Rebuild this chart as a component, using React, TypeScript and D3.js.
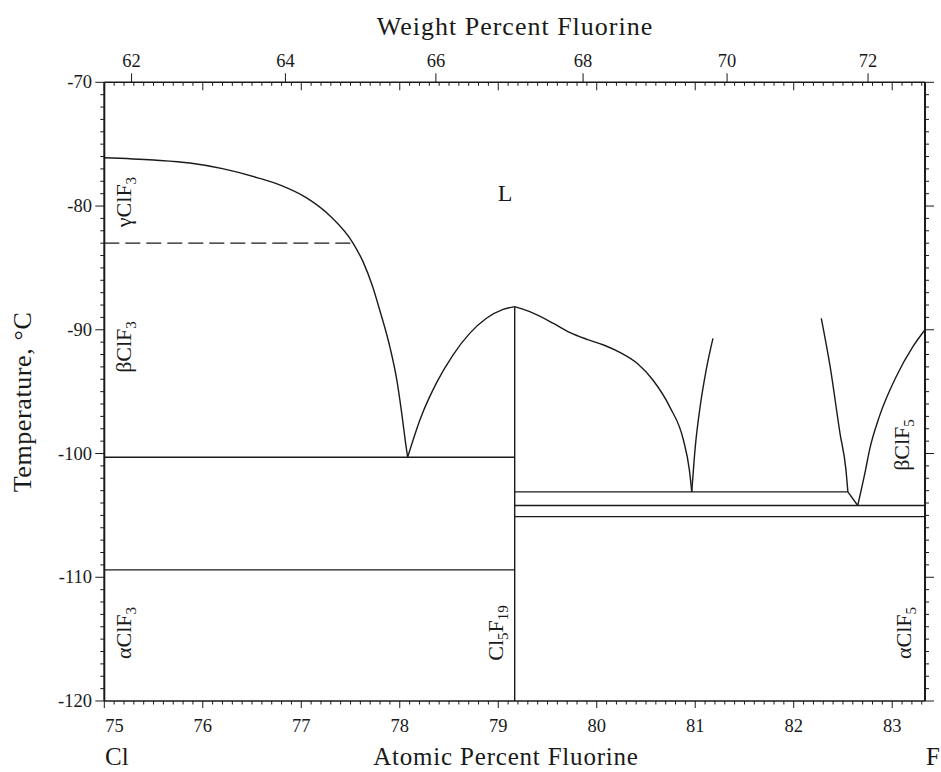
import React from "react";
import * as d3 from "d3";

// ---- data (atomic % F, temperature °C) ----
const liquidusClF3: [number, number][] = [
  [75, -76.1], [75.5, -76.28], [75.87, -76.52], [76.2, -76.98], [76.55, -77.7],
  [76.8, -78.35], [77.05, -79.32], [77.29, -80.78], [77.53, -83.05], [77.63, -84.55],
  [77.72, -86.4], [77.8, -88.5], [77.9, -91.4], [77.97, -94.05], [78.02, -96.75],
  [78.06, -99.2], [78.08, -100.3],
];
const liquidusCl5F19Left: [number, number][] = [
  [78.08, -100.3], [78.21, -97.17], [78.37, -94.33], [78.54, -92.04], [78.71, -90.29],
  [78.88, -89.07], [79.05, -88.35], [79.167, -88.13],
];
const liquidusCl5F19Right: [number, number][] = [
  [79.167, -88.13], [79.32, -88.54], [79.56, -89.48], [79.73, -90.23], [79.9, -90.77],
  [80.07, -91.23], [80.24, -91.85], [80.41, -92.71], [80.57, -94.06], [80.74, -96.21],
  [80.88, -98.91], [80.94, -101.3], [80.965, -103.1],
];
const liquidusB: [number, number][] = [
  [80.965, -103.1], [81.0, -99.5], [81.05, -96.2], [81.11, -93.3], [81.18, -90.7],
];
const liquidusC: [number, number][] = [
  [82.28, -89.07], [82.37, -92.98], [82.47, -98.37], [82.53, -101.3], [82.55, -103.1],
];
const kinkLine: [number, number][] = [[82.55, -103.1], [82.65, -104.2]];
const liquidusClF5: [number, number][] = [
  [82.65, -104.2], [82.73, -101.3], [82.77, -99.7], [82.87, -97.0], [83.04, -93.8],
  [83.21, -91.37], [83.333, -90.0],
];
// horizontal invariant lines: [x1, x2, T]
const isotherms: [number, number, number][] = [
  [75, 79.167, -100.3], [75, 79.167, -109.4], [79.167, 82.55, -103.1],
  [79.167, 83.333, -104.2], [79.167, 83.333, -105.1],
];
const dashedIsotherm: [number, number, number] = [75, 77.53, -83.0];
const compoundX = 79.167;
const compoundTop = -88.13;

const atomicMajor = [75, 76, 77, 78, 79, 80, 81, 82, 83];
const tempMajor = [-120, -110, -100, -90, -80, -70];
const weightTicks = [62, 64, 66, 68, 70, 72];

const W = 941, H = 772;
const x = d3.scaleLinear().domain([75, 83.333]).range([104.3, 925]);
const y = d3.scaleLinear().domain([-120, -70]).range([701, 82.3]);

const atFromWt = (w: number) => {
  const f = w / 100;
  const r = (35.453 * f) / (18.998 * (1 - f));
  return (100 * r) / (1 + r);
};

const line = d3
  .line<[number, number]>()
  .x((d) => x(d[0]))
  .y((d) => y(d[1]))
  .curve(d3.curveMonotoneX);
const straight = d3.line<[number, number]>().x((d) => x(d[0])).y((d) => y(d[1]));

const FONT = "'Liberation Serif', 'Times New Roman', Times, serif";
const INK = "#1a1a1a";

export default function App() {
  const minorAt = d3.range(750, 834, 1).map((v) => v / 10);
  const minorT = d3.range(-120, -69, 1);
  const xl = x(75), xr = x(83.333), yt = y(-70), yb = y(-120);

  const Rot = ({ cx, cy, children, size = 22 }: any) => (
    <text
      transform={`translate(${cx},${cy}) rotate(-90)`}
      textAnchor="middle"
      fontSize={size}
      fontFamily={FONT}
      fill={INK}
    >
      {children}
    </text>
  );
  const sub = (s: string) => (
    <tspan fontSize={15} dy={5}>{s}</tspan>
  );

  return (
    <svg width={W} height={H} style={{ position: "absolute", left: 0, top: 0, background: "#fff" }}>
      <rect width={W} height={H} fill="#fff" />
      {/* frame */}
      <g stroke={INK} fill="none">
        <line x1={xl} x2={xr} y1={yt} y2={yt} strokeWidth={1.5} />
        <line x1={xl} x2={xr} y1={yb} y2={yb} strokeWidth={1.5} />
        <line x1={xl} x2={xl} y1={yt} y2={yb} strokeWidth={2} />
        <line x1={xr} x2={xr} y1={yt} y2={yb} strokeWidth={2} />
      </g>
      {/* bottom ticks (outward) and top atomic ticks (inward) */}
      <g stroke={INK} strokeWidth={1}>
        {minorAt.map((v) => {
          const major = Math.abs(v - Math.round(v)) < 1e-6;
          return (
            <g key={"a" + v}>
              <line x1={x(v)} x2={x(v)} y1={yb} y2={yb + (major ? 7 : 3.5)} />
              <line x1={x(v)} x2={x(v)} y1={yt} y2={yt + (major ? 8 : 3.5)} />
            </g>
          );
        })}
        {minorT.map((t) => {
          const major = t % 10 === 0;
          return (
            <g key={"t" + t}>
              <line x1={xl} x2={xl - (major ? 9 : 4)} y1={y(t)} y2={y(t)} />
              <line x1={xr} x2={xr + (major ? 9 : 4)} y1={y(t)} y2={y(t)} />
            </g>
          );
        })}
        {weightTicks.map((w) => (
          <line key={"w" + w} x1={x(atFromWt(w))} x2={x(atFromWt(w))} y1={yt} y2={yt - 9} />
        ))}
      </g>
      {/* tick labels */}
      <g fontFamily={FONT} fontSize={18.5} fill={INK}>
        {atomicMajor.map((v, i) => (
          <text key={"al" + v} x={i === 0 ? x(v) + 1 : x(v)} y={732} textAnchor={i === 0 ? "start" : "middle"}>
            {v}
          </text>
        ))}
        {tempMajor.map((t) => (
          <text key={"tl" + t} x={92} y={y(t) + 6} textAnchor="end">
            {t}
          </text>
        ))}
        {weightTicks.map((w) => (
          <text key={"wl" + w} x={x(atFromWt(w))} y={67} textAnchor="middle">
            {w}
          </text>
        ))}
      </g>
      {/* axis titles */}
      <g fontFamily={FONT} fontSize={26} fill={INK}>
        <text x={515} y={35} textAnchor="middle" letterSpacing={1}>Weight Percent Fluorine</text>
        <text x={506} y={765} fontSize={25} textAnchor="middle" letterSpacing={0.8}>Atomic Percent Fluorine</text>
        <text x={105} y={765} fontSize={25}>Cl</text>
        <text x={926} y={765} fontSize={25}>F</text>
        <text transform="translate(31,402) rotate(-90)" textAnchor="middle" letterSpacing={0.6}>Temperature, °C</text>
      </g>
      {/* phase boundaries */}
      <g stroke={INK} fill="none" strokeWidth={1.4}>
        {[liquidusClF3, liquidusCl5F19Left, liquidusCl5F19Right, liquidusB, liquidusC, liquidusClF5].map((d, i) => (
          <path key={"c" + i} d={line(d) || ""} />
        ))}
        <path d={straight(kinkLine) || ""} />
        {isotherms.map(([a, b, t], i) => (
          <line key={"h" + i} x1={x(a)} x2={x(b)} y1={y(t)} y2={y(t)} />
        ))}
        <line x1={x(compoundX)} x2={x(compoundX)} y1={y(compoundTop)} y2={yb} />
        <line
          x1={x(dashedIsotherm[0])}
          x2={x(dashedIsotherm[1])}
          y1={y(dashedIsotherm[2])}
          y2={y(dashedIsotherm[2])}
          strokeDasharray="15 6"
        />
      </g>
      {/* phase labels */}
      <Rot cx={131} cy={202}>γClF{sub("3")}</Rot>
      <Rot cx={131} cy={347}>βClF{sub("3")}</Rot>
      <Rot cx={131} cy={633}>αClF{sub("3")}</Rot>
      <Rot cx={503} cy={633}>Cl{sub("5")}<tspan dy={-5}>F</tspan>{sub("19")}</Rot>
      <Rot cx={909} cy={445}>βClF{sub("5")}</Rot>
      <Rot cx={911} cy={633}>αClF{sub("5")}</Rot>
      <text x={505} y={201} textAnchor="middle" fontFamily={FONT} fontSize={24} fill={INK}>L</text>
    </svg>
  );
}
